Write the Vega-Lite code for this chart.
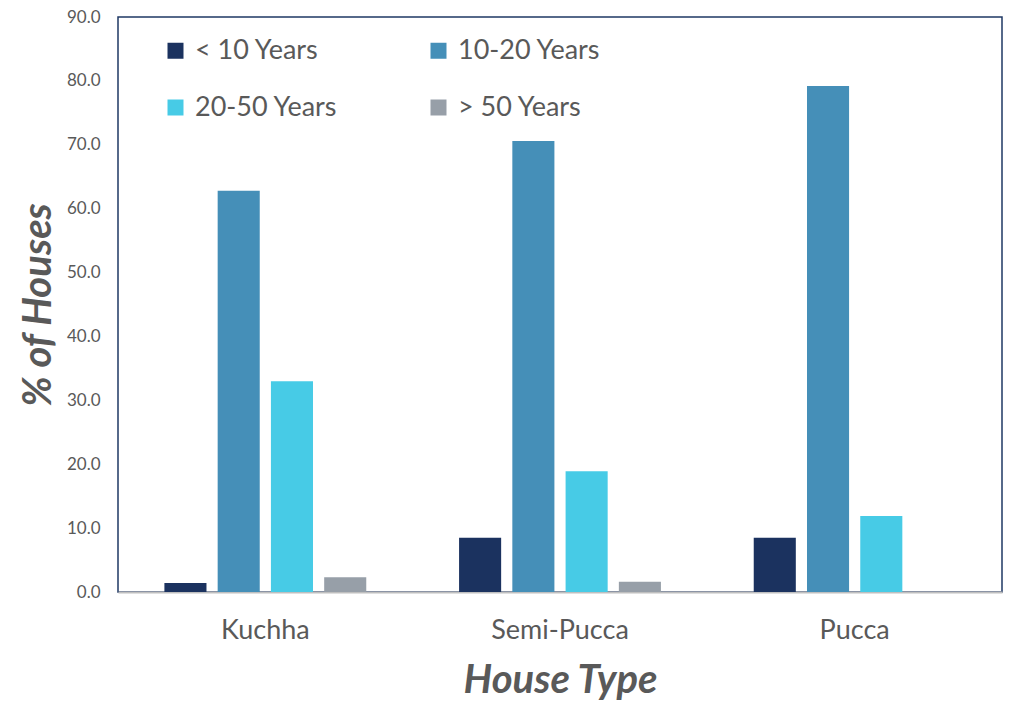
{
  "$schema": "https://vega.github.io/schema/vega-lite/v6.json",
  "width": 884,
  "height": 575,
  "autosize": {"type": "none"},
  "padding": {"left": 118, "top": 17, "right": 7, "bottom": 109},
  "background": "white",
  "config": {
    "font": "Lato",
    "view": {"stroke": "#1f3864", "strokeWidth": 1.5}
  },
  "data": {
    "values": [
      {"type": "Kuchha", "age": "< 10 Years", "pct": 1.4},
      {"type": "Kuchha", "age": "10-20 Years", "pct": 62.8},
      {"type": "Kuchha", "age": "20-50 Years", "pct": 33.0},
      {"type": "Kuchha", "age": "> 50 Years", "pct": 2.3},
      {"type": "Semi-Pucca", "age": "< 10 Years", "pct": 8.5},
      {"type": "Semi-Pucca", "age": "10-20 Years", "pct": 70.6},
      {"type": "Semi-Pucca", "age": "20-50 Years", "pct": 18.9},
      {"type": "Semi-Pucca", "age": "> 50 Years", "pct": 1.6},
      {"type": "Pucca", "age": "< 10 Years", "pct": 8.5},
      {"type": "Pucca", "age": "10-20 Years", "pct": 79.2},
      {"type": "Pucca", "age": "20-50 Years", "pct": 11.9},
      {"type": "Pucca", "age": "> 50 Years", "pct": 0.0}
    ]
  },
  "mark": {"type": "bar"},
  "encoding": {
    "x": {
      "field": "type",
      "type": "nominal",
      "sort": ["Kuchha", "Semi-Pucca", "Pucca"],
      "scale": {"paddingInner": 0.277, "paddingOuter": 0.1385},
      "axis": {
        "title": "House Type",
        "titleFontSize": 40,
        "titleFontWeight": "bold",
        "titleFontStyle": "italic",
        "titleColor": "#595959",
        "titlePadding": 17,
        "labelAngle": 0,
        "labelFontSize": 27,
        "labelColor": "#595959",
        "labelPadding": 25,
        "ticks": false,
        "domainColor": "#bfbfbf",
        "domainWidth": 2
      }
    },
    "xOffset": {
      "field": "age",
      "type": "nominal",
      "sort": ["< 10 Years", "10-20 Years", "20-50 Years", "> 50 Years"],
      "scale": {"paddingInner": 0.21, "paddingOuter": 0.105}
    },
    "y": {
      "field": "pct",
      "type": "quantitative",
      "scale": {"domain": [0, 90], "nice": false},
      "axis": {
        "values": [0, 10, 20, 30, 40, 50, 60, 70, 80, 90],
        "format": ".1f",
        "title": "% of Houses",
        "titleFontSize": 40,
        "titleFontWeight": "bold",
        "titleFontStyle": "italic",
        "titleColor": "#595959",
        "titlePadding": 8,
        "labelFontSize": 17,
        "labelColor": "#595959",
        "labelPadding": 18,
        "ticks": false,
        "domain": false,
        "grid": false
      }
    },
    "color": {
      "field": "age",
      "type": "nominal",
      "sort": ["< 10 Years", "10-20 Years", "20-50 Years", "> 50 Years"],
      "scale": {
        "domain": ["< 10 Years", "10-20 Years", "20-50 Years", "> 50 Years"],
        "range": ["#1b325f", "#458fb8", "#47cbe6", "#979fa8"]
      },
      "legend": {
        "title": null,
        "orient": "none",
        "legendX": 44,
        "legendY": 20,
        "values": ["< 10 Years", "20-50 Years", "10-20 Years", "> 50 Years"],
        "columns": 2,
        "columnPadding": 87,
        "rowPadding": 29,
        "symbolType": "square",
        "symbolSize": 256,
        "symbolStrokeWidth": 0,
        "labelFontSize": 27,
        "labelColor": "#595959",
        "labelOffset": 6
      }
    }
  }
}
